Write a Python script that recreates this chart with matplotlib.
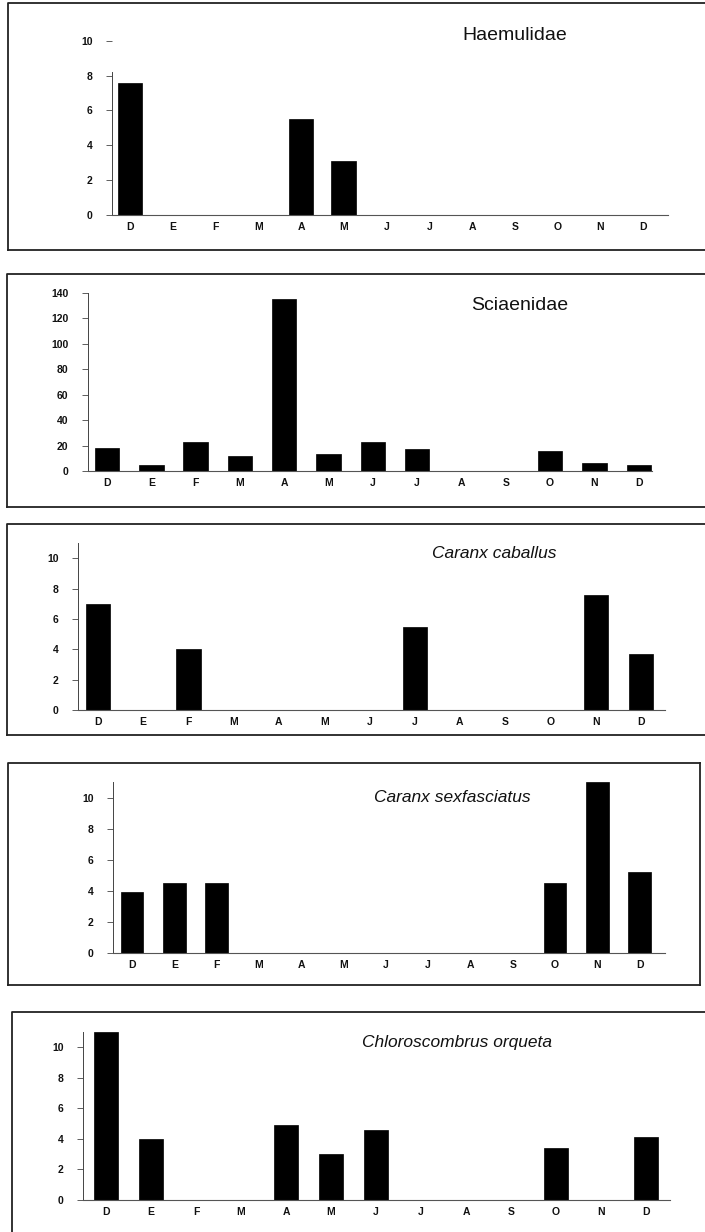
"""
Monthly abundance bar panels for five fish taxa (D..D sampling months).
"""

import matplotlib

matplotlib.use("Agg")
import matplotlib.pyplot as plt
from matplotlib.lines import Line2D

plt.rcParams["font.family"] = ["Liberation Sans", "DejaVu Sans"]

W, H = 705, 1232

months = ["D", "E", "F", "M", "A", "M", "J", "J", "A", "S", "O", "N", "D"]

haemulidae = [7.6, 0, 0, 0, 5.5, 3.1, 0, 0, 0, 0, 0, 0, 0]
sciaenidae = [18, 5, 23, 12, 135, 13, 23, 17, 0, 0, 16, 6, 5]
caranx_caballus = [7.0, 0, 4.0, 0, 0, 0, 0, 5.5, 0, 0, 0, 7.6, 3.7]
caranx_sexfasciatus = [3.9, 4.5, 4.5, 0, 0, 0, 0, 0, 0, 0, 4.5, 11.0, 5.2]
chloroscombrus_orqueta = [11.0, 4.0, 0, 0, 4.9, 3.0, 4.6, 0, 0, 0, 3.4, 0, 4.1]

titles = ["Haemulidae", "Sciaenidae", "Caranx caballus",
          "Caranx sexfasciatus", "Chloroscombrus orqueta"]
series = [haemulidae, sciaenidae, caranx_caballus,
          caranx_sexfasciatus, chloroscombrus_orqueta]
yticks = [[0, 2, 4, 6, 8, 10],
          [0, 20, 40, 60, 80, 100, 120, 140],
          [0, 2, 4, 6, 8, 10],
          [0, 2, 4, 6, 8, 10],
          [0, 2, 4, 6, 8, 10]]

# layout in pixels: axis left/right, y of zero, y of top, xlim, ylim top
layout = [
    dict(l=112, r=668, y0=215, y1=32, xlim=(-0.42, 12.58), ytop=10.5, bw=0.58),
    dict(l=88, r=652, y0=471, y1=293, xlim=(-0.43, 12.3), ytop=140, bw=0.55),
    dict(l=78, r=665, y0=710, y1=543, xlim=(-0.44, 12.53), ytop=11, bw=0.54),
    dict(l=113, r=665, y0=953, y1=782, xlim=(-0.45, 12.6), ytop=11, bw=0.54),
    dict(l=83, r=670, y0=1200, y1=1032, xlim=(-0.51, 12.53), ytop=11, bw=0.54),
]
title_pos = [(515, 36, "normal", 14), (520, 305, "normal", 14),
             (494, 553, "italic", 12.5), (452, 797, "italic", 12.5),
             (457, 1043, "italic", 12.5)]
# frame boxes: left, top, bottom (None = off page), right (None = page edge)
frames = [(8, 3, 250, None), (7, 274, 507, None), (7, 524, 735, None),
          (8, 763, 985, 700), (12, 1012, None, None)]

fig = plt.figure(figsize=(W / 100, H / 100), dpi=100)
fig.patch.set_facecolor("white")


def fx(px):
    return px / W


def fy(py):
    return 1 - py / H


for i, (vals, ttl) in enumerate(zip(series, titles)):
    lay = layout[i]
    ax = fig.add_axes([fx(lay["l"]), fy(lay["y0"]),
                       fx(lay["r"] - lay["l"]), (lay["y0"] - lay["y1"]) / H])
    x = list(range(len(months)))
    ax.bar(x, vals, width=lay["bw"], color="black", edgecolor="black", linewidth=0.5)
    ax.set_xlim(*lay["xlim"])
    ax.set_ylim(0, lay["ytop"])
    ax.set_xticks(x)
    ax.set_xticklabels(months, fontsize=7.5, fontweight="bold", color="#111")
    ax.set_yticks(yticks[i])
    ax.set_yticklabels([str(t) for t in yticks[i]], fontsize=7.5,
                       fontweight="bold", color="#111")
    ax.tick_params(axis="x", length=0, pad=5)
    ax.tick_params(axis="y", length=4, width=0.6, pad=10, color="#444")
    for s in ["top", "right"]:
        ax.spines[s].set_visible(False)
    ax.spines["left"].set_color("#444")
    ax.spines["left"].set_linewidth(0.7)
    ax.spines["bottom"].set_color("#555")
    ax.spines["bottom"].set_linewidth(0.8)
    if i == 0:
        ax.spines["left"].set_bounds(0, 8.2)
    ax.patch.set_alpha(0)

    tx, ty, style, size = title_pos[i]
    fig.text(fx(tx), fy(ty), ttl, ha="center", va="center",
             fontsize=size, style=style, color="#111")

# panel frames
for left, top, bottom, right in frames:
    r = right if right is not None else W + 5
    b = bottom if bottom is not None else H + 5
    fig.add_artist(Line2D([fx(r), fx(left), fx(left)], [fy(top), fy(top), fy(b)],
                          transform=fig.transFigure, color="#222", lw=1.3))
    if bottom is not None:
        fig.add_artist(Line2D([fx(left), fx(r)], [fy(b), fy(b)],
                              transform=fig.transFigure, color="#222", lw=1.3))
    if right is not None:
        fig.add_artist(Line2D([fx(right), fx(right)], [fy(top), fy(b)],
                              transform=fig.transFigure, color="#222", lw=1.3))

fig.savefig("out.png", dpi=100, facecolor="white")
